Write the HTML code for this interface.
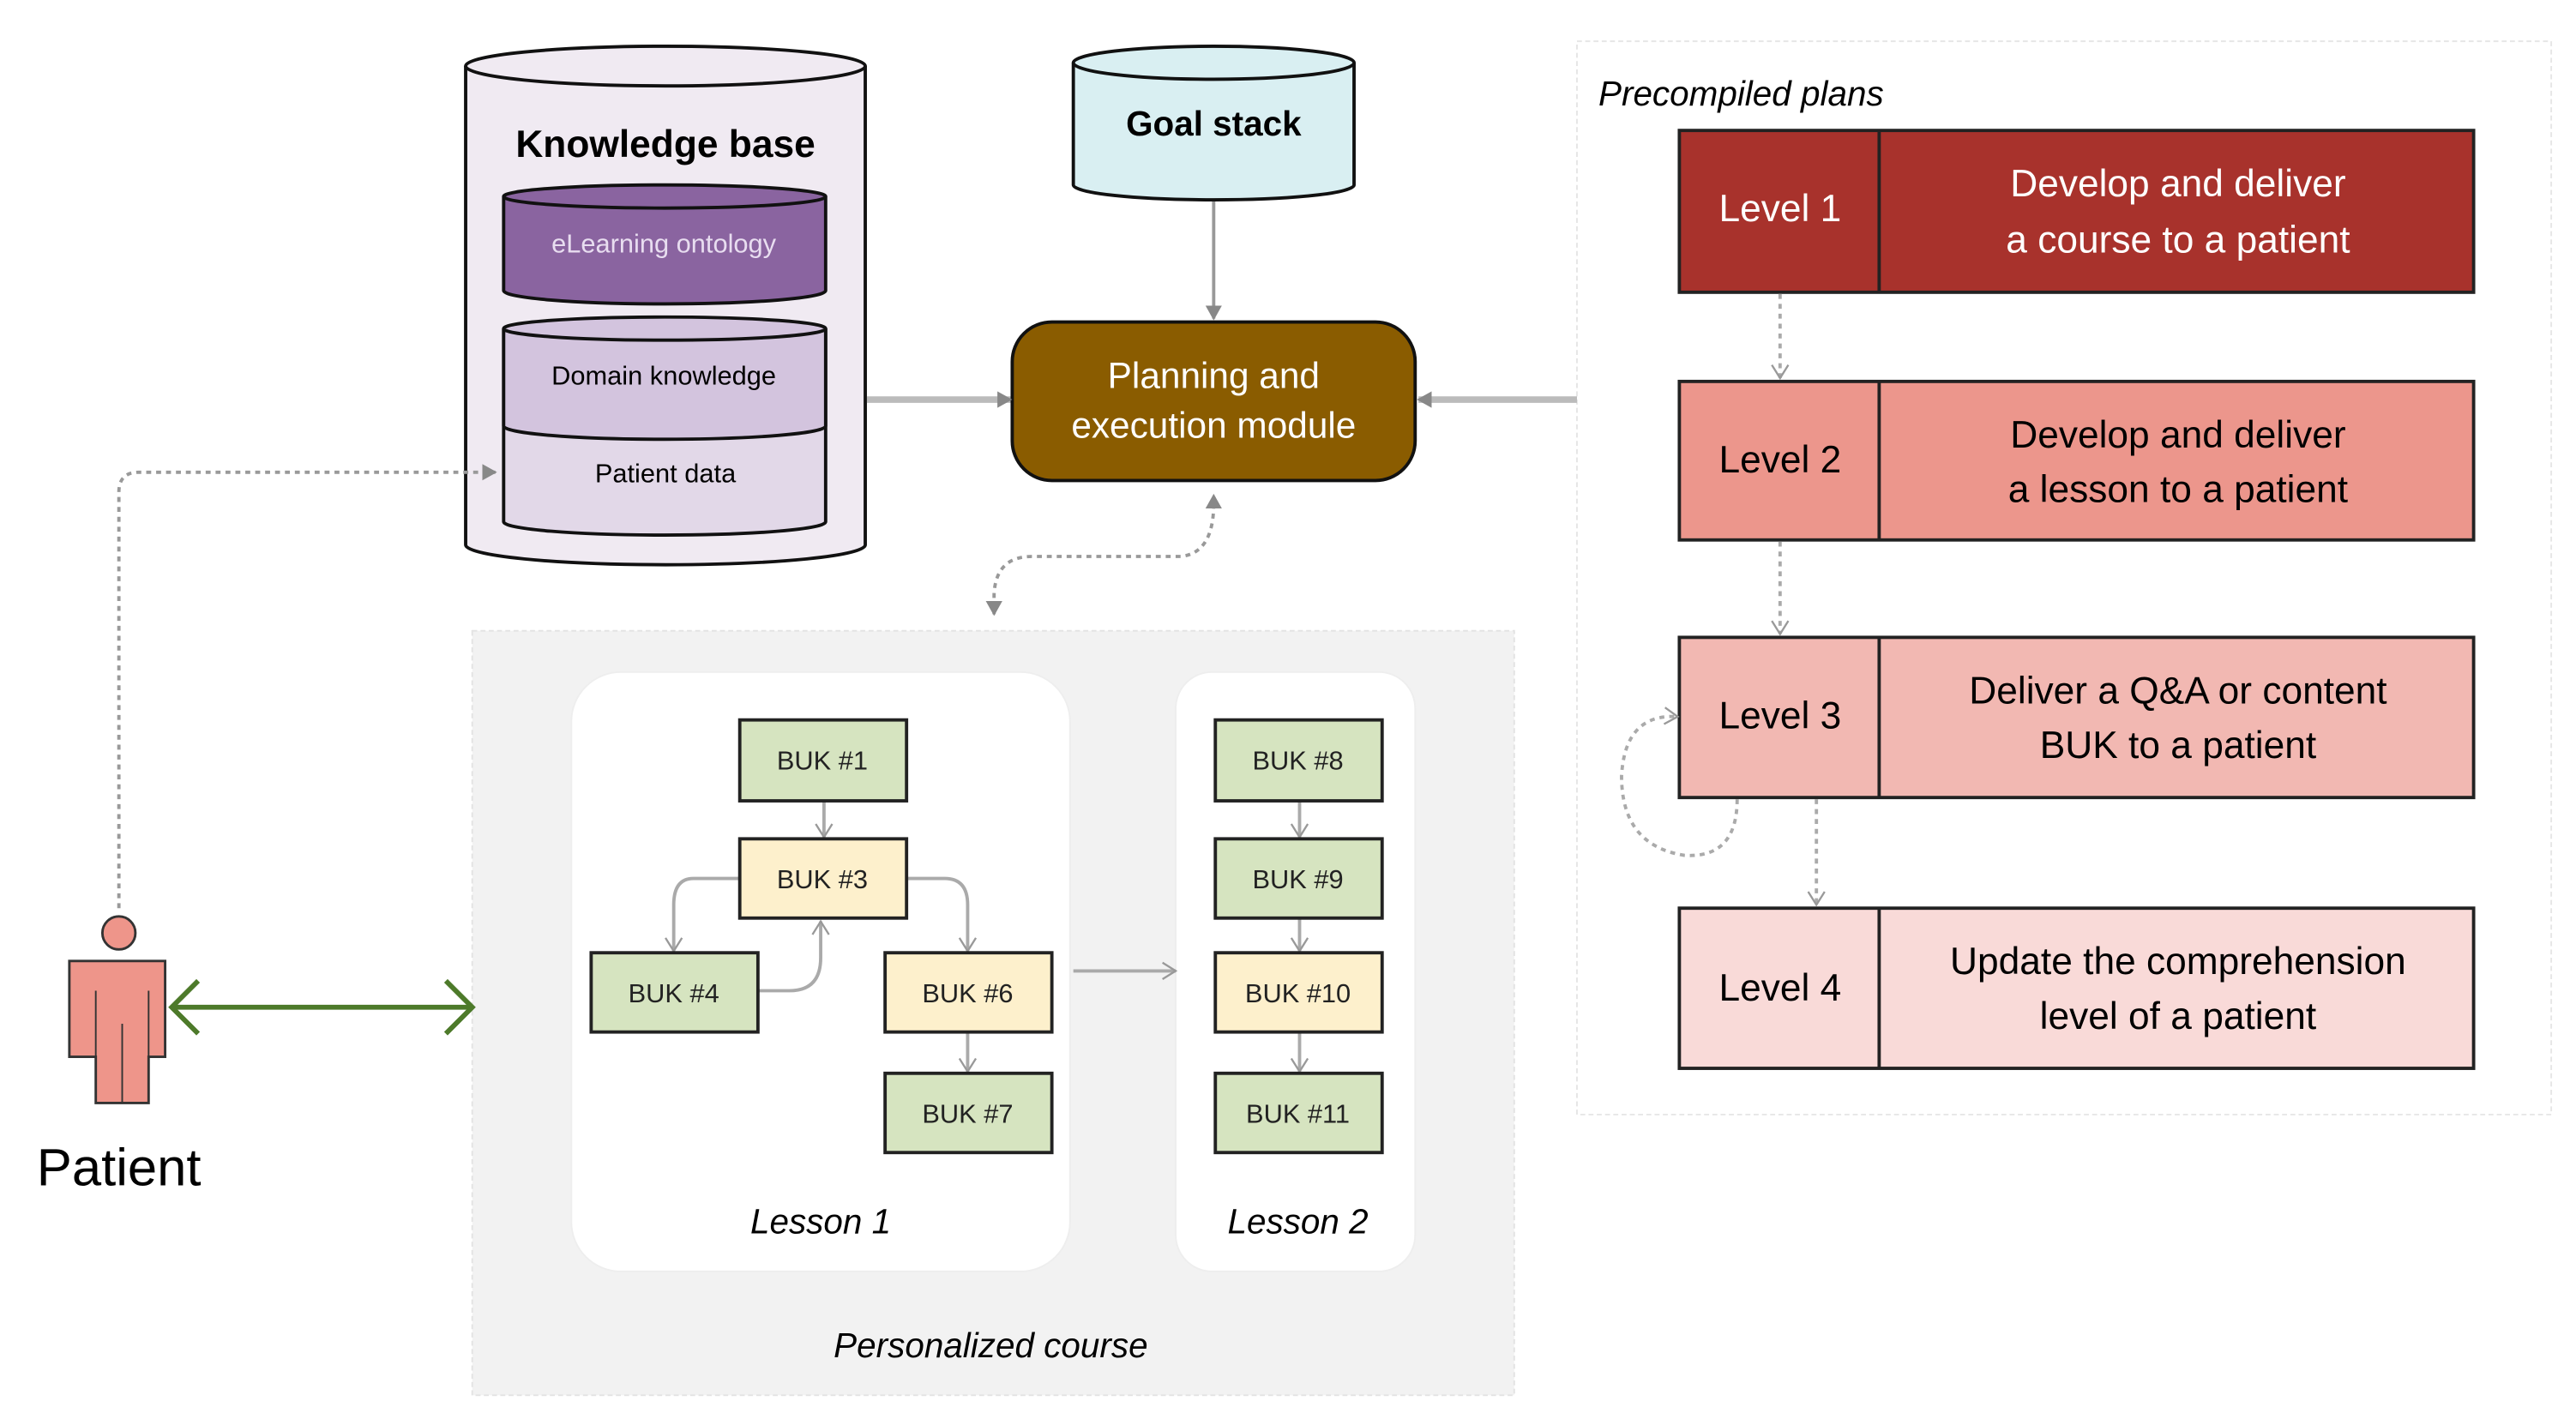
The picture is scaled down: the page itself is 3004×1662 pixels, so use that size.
<!DOCTYPE html>
<html><head><meta charset="utf-8"><style>
html,body{margin:0;padding:0;background:#fff;}
svg{display:block;}
text{font-family:"Liberation Sans",sans-serif;}
</style></head><body>
<svg width="3004" height="1662" viewBox="0 0 1560 863" preserveAspectRatio="none" xmlns="http://www.w3.org/2000/svg">
<defs>
<marker id="ag" markerWidth="10" markerHeight="10" refX="8" refY="5" orient="auto" markerUnits="userSpaceOnUse"><path d="M0,0 L9,5 L0,10 z" fill="#888"/></marker>
<marker id="ao" markerWidth="12" markerHeight="12" refX="9" refY="6" orient="auto" markerUnits="userSpaceOnUse"><path d="M1,1 L9,6 L1,11" fill="none" stroke="#999" stroke-width="1.2"/></marker>
<marker id="gr" markerWidth="22" markerHeight="36" refX="18" refY="18" orient="auto-start-reverse" markerUnits="userSpaceOnUse"><path d="M2,2 L18,18 L2,34" fill="none" stroke="#4d7a2a" stroke-width="3"/></marker>
</defs>

<rect x="955" y="25" width="590" height="650" fill="#fff" stroke="#e6e6e6" stroke-dasharray="3,2"/>
<text x="968" y="64" font-size="21" font-style="italic">Precompiled plans</text>

<rect x="286" y="382" width="631" height="463" fill="#f2f2f2" stroke="#e3e3e3" stroke-dasharray="3,2"/>
<rect x="346" y="407" width="302" height="363" rx="30" fill="#fff" stroke="#eee"/>
<rect x="712" y="407" width="145" height="363" rx="22" fill="#fff" stroke="#eee"/>
<text x="497" y="747" font-size="21" font-style="italic" text-anchor="middle">Lesson 1</text>
<text x="786" y="747" font-size="21" font-style="italic" text-anchor="middle">Lesson 2</text>
<text x="600" y="822" font-size="21" font-style="italic" text-anchor="middle">Personalized course</text>

<g stroke="#aaa" stroke-width="2" fill="none">
<line x1="499" y1="485" x2="499" y2="507" marker-end="url(#ao)"/>
<path d="M448,532 H420 Q408,532 408,548 V576" marker-end="url(#ao)"/>
<path d="M549,532 H572 Q586,532 586,548 V576" marker-end="url(#ao)"/>
<path d="M459,600 H478 Q497,600 497,580 V558" marker-end="url(#ao)"/>
<line x1="586" y1="625" x2="586" y2="649" marker-end="url(#ao)"/>
<line x1="787" y1="485" x2="787" y2="507" marker-end="url(#ao)"/>
<line x1="787" y1="556" x2="787" y2="576" marker-end="url(#ao)"/>
<line x1="787" y1="625" x2="787" y2="649" marker-end="url(#ao)"/>
<line x1="650" y1="588" x2="712" y2="588" marker-end="url(#ao)"/>
</g>

<g stroke="#222" stroke-width="2" font-size="16" text-anchor="middle">
<rect x="448" y="436" width="101" height="49" fill="#d6e4c0"/>
<rect x="448" y="508" width="101" height="48" fill="#fdf0cc"/>
<rect x="358" y="577" width="101" height="48" fill="#d6e4c0"/>
<rect x="536" y="577" width="101" height="48" fill="#fdf0cc"/>
<rect x="536" y="650" width="101" height="48" fill="#d6e4c0"/>
<rect x="736" y="436" width="101" height="49" fill="#d6e4c0"/>
<rect x="736" y="508" width="101" height="48" fill="#d6e4c0"/>
<rect x="736" y="577" width="101" height="48" fill="#fdf0cc"/>
<rect x="736" y="650" width="101" height="48" fill="#d6e4c0"/>
</g>
<g font-size="16" text-anchor="middle" fill="#222">
<text x="498" y="466">BUK #1</text>
<text x="498" y="538">BUK #3</text>
<text x="408" y="607">BUK #4</text>
<text x="586" y="607">BUK #6</text>
<text x="586" y="680">BUK #7</text>
<text x="786" y="466">BUK #8</text>
<text x="786" y="538">BUK #9</text>
<text x="786" y="607">BUK #10</text>
<text x="786" y="680">BUK #11</text>
</g>

<path d="M282,40 V330 A121,12 0 0 0 524,330 V40" fill="#f0eaf2" stroke="#111" stroke-width="2"/>
<ellipse cx="403" cy="40" rx="121" ry="12" fill="#f0eaf2" stroke="#111" stroke-width="2"/>
<text x="403" y="95" font-size="23" font-weight="bold" text-anchor="middle">Knowledge base</text>
<path d="M305,119 V176 A97,8 0 0 0 500,176 V119" fill="#8a64a0" stroke="#111" stroke-width="2"/>
<ellipse cx="402.5" cy="119" rx="97.5" ry="7" fill="#8a64a0" stroke="#111" stroke-width="2"/>
<text x="402" y="153" font-size="16" fill="#e8ddf0" text-anchor="middle">eLearning ontology</text>
<path d="M305,199 V316 A97,8 0 0 0 500,316 V199" fill="#e2d8e8" stroke="#111" stroke-width="2"/>
<path d="M305,199 V258 A97,8 0 0 0 500,258 V199" fill="#d3c4de" stroke="#111" stroke-width="2"/>
<ellipse cx="402.5" cy="199" rx="97.5" ry="7" fill="#d3c4de" stroke="#111" stroke-width="2"/>
<text x="402" y="233" font-size="16" text-anchor="middle">Domain knowledge</text>
<text x="403" y="292" font-size="16" text-anchor="middle">Patient data</text>

<path d="M650,38 V112 A85,9 0 0 0 820,112 V38" fill="#d9eff2" stroke="#111" stroke-width="2"/>
<ellipse cx="735" cy="38" rx="85" ry="10" fill="#d9eff2" stroke="#111" stroke-width="2"/>
<text x="735" y="82" font-size="21" font-weight="bold" text-anchor="middle">Goal stack</text>

<rect x="613" y="195" width="244" height="96" rx="24" fill="#8a5c00" stroke="#111" stroke-width="2"/>
<text x="735" y="235" font-size="22" fill="#fff" text-anchor="middle">Planning and</text>
<text x="735" y="265" font-size="22" fill="#fff" text-anchor="middle">execution module</text>

<line x1="735" y1="122" x2="735" y2="193" stroke="#999" stroke-width="2" marker-end="url(#ag)"/>
<line x1="525" y1="242" x2="612" y2="242" stroke="#bbb" stroke-width="4" marker-end="url(#ag)"/>
<line x1="955" y1="242" x2="859" y2="242" stroke="#bbb" stroke-width="4" marker-end="url(#ag)"/>
<path d="M735,305 Q735,335 715,337 H625 Q603,337 602,360 V372" fill="none" stroke="#999" stroke-width="2" stroke-dasharray="3,3" marker-end="url(#ag)"/>
<path d="M735,308 V300" stroke="#999" marker-end="url(#ag)"/>
<path d="M72,550 V298 Q72,286 84,286 H300" fill="none" stroke="#999" stroke-width="2" stroke-dasharray="3,3" marker-end="url(#ag)"/>

<circle cx="72" cy="565" r="10" fill="#ee958a" stroke="#333" stroke-width="1.5"/>
<path d="M42,582 H100 V640 H90 V668 H58 V640 H42 Z" fill="#ee958a" stroke="#333" stroke-width="1.5"/>
<line x1="58" y1="600" x2="58" y2="640" stroke="#333"/><line x1="90" y1="600" x2="90" y2="640" stroke="#333"/>
<line x1="74" y1="620" x2="74" y2="668" stroke="#333"/>
<text x="72" y="718" font-size="32" text-anchor="middle">Patient</text>
<line x1="104" y1="610" x2="286" y2="610" stroke="#4d7a2a" stroke-width="3" marker-start="url(#gr)" marker-end="url(#gr)"/>

<g stroke="#222" stroke-width="2">
<rect x="1017" y="79" width="481" height="98" fill="#a8322c"/><line x1="1138" y1="79" x2="1138" y2="177"/>
<rect x="1017" y="231" width="481" height="96" fill="#ec968c"/><line x1="1138" y1="231" x2="1138" y2="327"/>
<rect x="1017" y="386" width="481" height="97" fill="#f2b8b2"/><line x1="1138" y1="386" x2="1138" y2="483"/>
<rect x="1017" y="550" width="481" height="97" fill="#f9dad8"/><line x1="1138" y1="550" x2="1138" y2="647"/>
</g>
<g font-size="23" text-anchor="middle">
<text x="1078" y="134" fill="#fff">Level 1</text>
<text x="1319" y="119" fill="#fff">Develop and deliver</text>
<text x="1319" y="153" fill="#fff">a course to a patient</text>
<text x="1078" y="286">Level 2</text>
<text x="1319" y="271">Develop and deliver</text>
<text x="1319" y="304">a lesson to a patient</text>
<text x="1078" y="441">Level 3</text>
<text x="1319" y="426">Deliver a Q&amp;A or content</text>
<text x="1319" y="459">BUK to a patient</text>
<text x="1078" y="606">Level 4</text>
<text x="1319" y="590">Update the comprehension</text>
<text x="1319" y="623">level of a patient</text>
</g>
<g stroke="#aaa" stroke-width="2" fill="none" stroke-dasharray="3,3">
<line x1="1078" y1="178" x2="1078" y2="229" marker-end="url(#ao)"/>
<line x1="1078" y1="328" x2="1078" y2="384" marker-end="url(#ao)"/>
<line x1="1100" y1="484" x2="1100" y2="548" marker-end="url(#ao)"/>
<path d="M1052,484 Q1052,520 1020,518 Q982,512 982,470 Q984,432 1016,434" marker-end="url(#ao)"/>
</g>
</svg>
</body></html>
